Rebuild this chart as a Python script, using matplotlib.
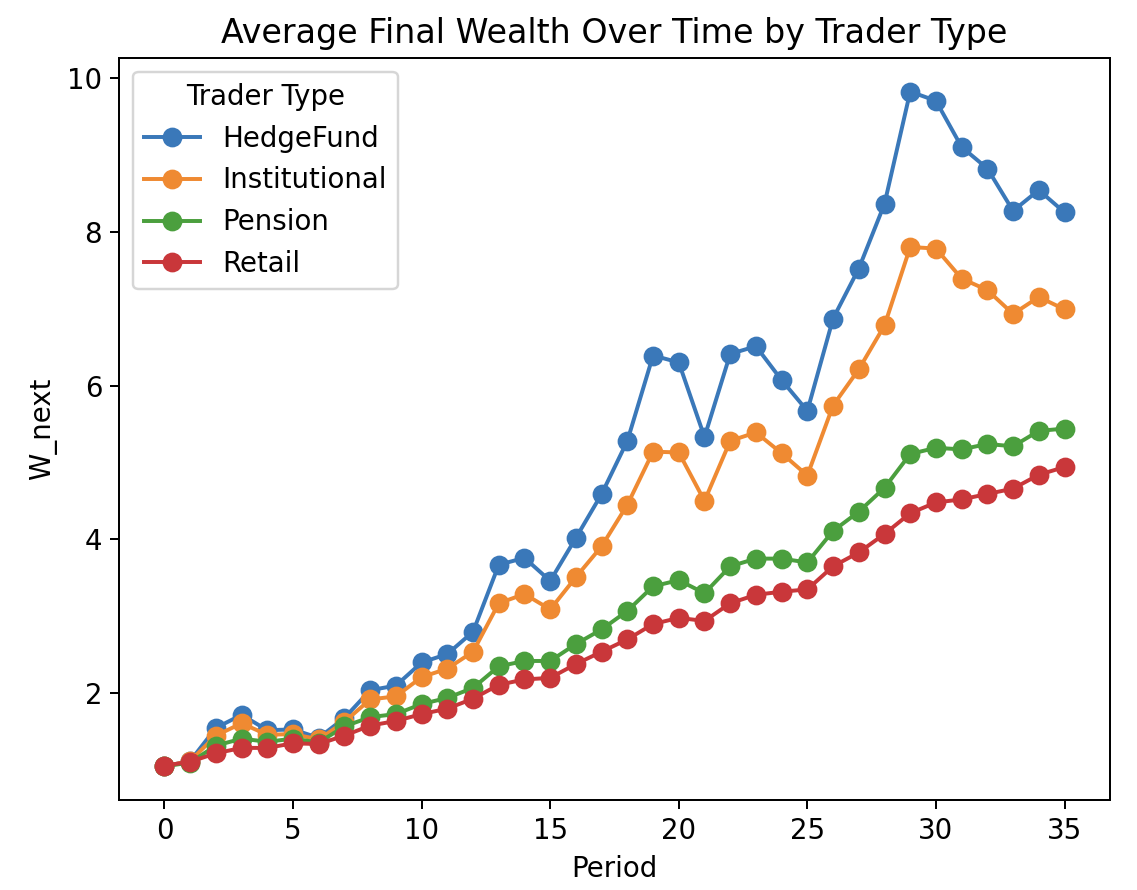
import numpy as np
import matplotlib
matplotlib.use("Agg")
import matplotlib.pyplot as plt

periods = np.arange(36)

hedge_fund = [1.05, 1.12, 1.55, 1.72, 1.52, 1.53, 1.42, 1.68, 2.04, 2.10, 2.40, 2.51,
              2.80, 3.67, 3.76, 3.46, 4.02, 4.59, 5.28, 6.39, 6.30, 5.33, 6.41, 6.51,
              6.07, 5.67, 6.87, 7.52, 8.36, 9.82, 9.70, 9.10, 8.82, 8.27, 8.54, 8.25]
institutional = [1.05, 1.12, 1.45, 1.61, 1.46, 1.47, 1.40, 1.63, 1.92, 1.96, 2.21, 2.32,
                 2.54, 3.17, 3.29, 3.09, 3.51, 3.91, 4.45, 5.14, 5.13, 4.50, 5.28, 5.39,
                 5.12, 4.83, 5.74, 6.21, 6.78, 7.80, 7.78, 7.39, 7.24, 6.93, 7.15, 6.99]
pension = [1.05, 1.10, 1.32, 1.41, 1.37, 1.41, 1.36, 1.57, 1.69, 1.73, 1.86, 1.94,
           2.07, 2.35, 2.42, 2.42, 2.64, 2.83, 3.07, 3.39, 3.47, 3.30, 3.65, 3.75,
           3.75, 3.70, 4.11, 4.36, 4.67, 5.11, 5.19, 5.17, 5.24, 5.21, 5.41, 5.44]
retail = [1.06, 1.11, 1.22, 1.29, 1.29, 1.35, 1.34, 1.45, 1.58, 1.64, 1.73, 1.80,
          1.93, 2.11, 2.18, 2.20, 2.38, 2.54, 2.70, 2.90, 2.98, 2.94, 3.17, 3.28,
          3.32, 3.35, 3.65, 3.83, 4.07, 4.34, 4.48, 4.52, 4.59, 4.66, 4.84, 4.94]

series = {
    "HedgeFund": hedge_fund,
    "Institutional": institutional,
    "Pension": pension,
    "Retail": retail,
}
colors = ["#3a78b9", "#ef8a32", "#4b9f3e", "#c9373a"]

plt.rcParams["font.size"] = 11.2

fig = plt.figure(figsize=(6.393, 5.0), dpi=178)
ax = fig.add_subplot(111)
fig.subplots_adjust(left=0.105, right=0.975, top=0.935, bottom=0.101)

for (name, vals), c in zip(series.items(), colors):
    ax.plot(periods, vals, marker="o", color=c, label=name, markersize=7, linewidth=1.6)

ax.set_title("Average Final Wealth Over Time by Trader Type")
ax.set_xlabel("Period")
ax.set_ylabel("W_next")
ax.set_xticks(np.arange(0, 36, 5))
ax.set_yticks([2, 4, 6, 8, 10])
ax.legend(title="Trader Type", loc="upper left")

fig.savefig("out.png", dpi=178)
